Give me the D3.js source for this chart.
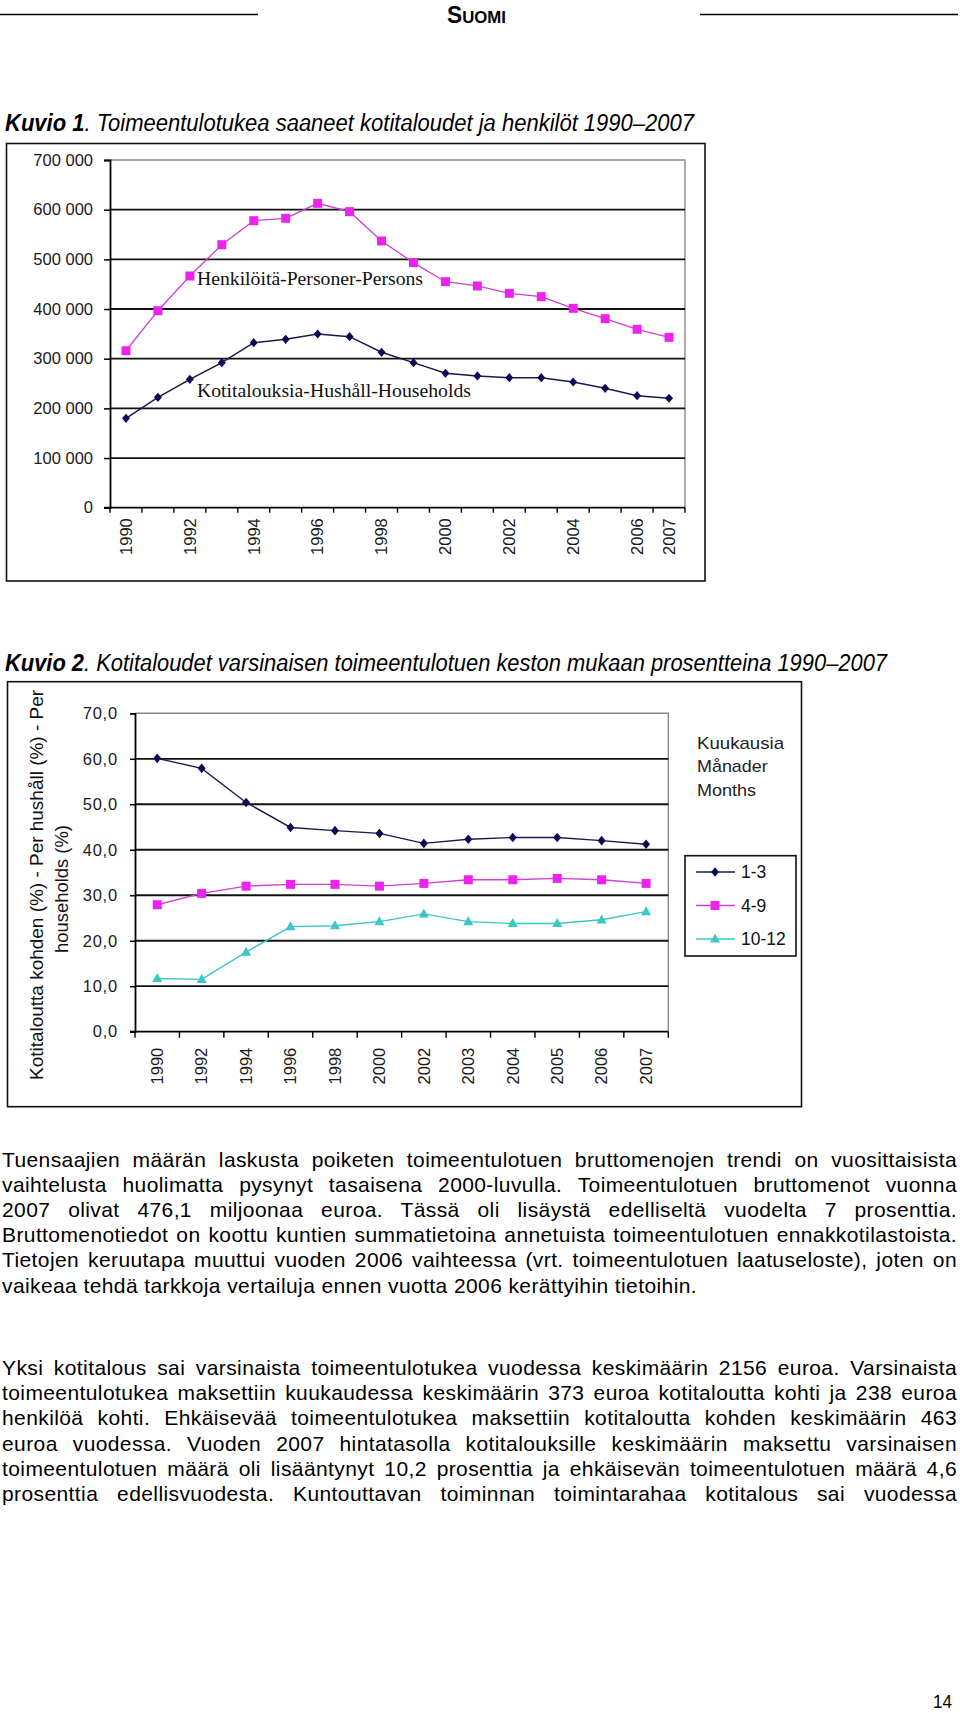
<!DOCTYPE html>
<html><head><meta charset="utf-8">
<script src="https://cdn.jsdelivr.net/npm/d3@7"></script>
<style>
body{margin:0;background:#fff}
svg{display:block}
text{font-family:"Liberation Sans",Arial,Helvetica,sans-serif}
</style>
</head><body>
<svg id="page" width="960" height="1713"></svg>
<script>
// ---------- DATA ----------
const years1 = [1990,1991,1992,1993,1994,1995,1996,1997,1998,1999,2000,2001,2002,2003,2004,2005,2006,2007];
const yearLabels1 = [1990,1992,1994,1996,1998,2000,2002,2004,2006,2007];
const persons = [316000,396600,466500,529500,577800,582600,612800,596000,537000,493300,455000,446400,431600,424800,401400,380500,359200,343000];
const households = [180000,222300,258500,292000,332200,339000,349700,344300,312900,292000,270600,265200,261800,261800,253100,240400,225500,220300];
const yTicks1 = [0,100000,200000,300000,400000,500000,600000,700000];
const seriesLabels1 = ["Henkilöitä-Personer-Persons","Kotitalouksia-Hushåll-Households"];

const categories2 = ["1990","1992","1994","1996","1998","2000","2002","2003","2004","2005","2006","2007"];
const months1to3 = [60.1,57.9,50.4,44.9,44.2,43.6,41.4,42.3,42.7,42.7,42.0,41.2];
const months4to9 = [27.9,30.4,32.0,32.4,32.4,32.0,32.6,33.4,33.4,33.7,33.4,32.6];
const months10to12 = [11.7,11.5,17.5,23.1,23.3,24.2,25.9,24.2,23.8,23.8,24.6,26.4];
const yTicks2 = [0,10,20,30,40,50,60,70];
const legendLabels2 = ["1-3","4-9","10-12"];
const legendTitle2 = ["Kuukausia","Månader","Months"];
const yTitle2 = ["Kotitaloutta kohden (%) - Per hushåll (%) - Per","households (%)"];

const title1 = ["Kuvio 1", ". Toimeentulotukea saaneet kotitaloudet ja henkilöt 1990–2007"];
const title2 = ["Kuvio 2", ". Kotitaloudet varsinaisen toimeentulotuen keston mukaan prosentteina 1990–2007"];

const para1 = [
 "Tuensaajien määrän laskusta poiketen toimeentulotuen bruttomenojen trendi on vuosittaisista",
 "vaihtelusta huolimatta pysynyt tasaisena 2000-luvulla. Toimeentulotuen bruttomenot vuonna",
 "2007 olivat 476,1 miljoonaa euroa. Tässä oli lisäystä edelliseltä vuodelta 7 prosenttia.",
 "Bruttomenotiedot on koottu kuntien summatietoina annetuista toimeentulotuen ennakkotilastoista.",
 "Tietojen keruutapa muuttui vuoden 2006 vaihteessa (vrt. toimeentulotuen laatuseloste), joten on",
 "vaikeaa tehdä tarkkoja vertailuja ennen vuotta 2006 kerättyihin tietoihin."
];
const para2 = [
 "Yksi kotitalous sai varsinaista toimeentulotukea vuodessa keskimäärin 2156 euroa. Varsinaista",
 "toimeentulotukea maksettiin kuukaudessa keskimäärin 373 euroa kotitaloutta kohti ja 238 euroa",
 "henkilöä kohti. Ehkäisevää toimeentulotukea maksettiin kotitaloutta kohden keskimäärin 463",
 "euroa vuodessa. Vuoden 2007 hintatasolla kotitalouksille keskimäärin maksettu varsinaisen",
 "toimeentulotuen määrä oli lisääntynyt 10,2 prosenttia ja ehkäisevän toimeentulotuen määrä 4,6",
 "prosenttia edellisvuodesta. Kuntouttavan toiminnan toimintarahaa kotitalous sai vuodessa"
];

// ---------- HELPERS ----------
const svg = d3.select("#page");
const NAVY = "#0b0b55", MAG = "#ee22ee", MAGL = "#d040d0", TEAL = "#3cc6c6";
function diamond(hw, hh){ return `M0,${-hh}L${hw},0L0,${hh}L${-hw},0Z`; }
function square(s){ return `M${-s/2},${-s/2}h${s}v${s}h${-s}Z`; }
function triangle(b,h){ return `M0,${-h*0.6}L${b/2},${h*0.4}L${-b/2},${h*0.4}Z`; }

// ---------- HEADER ----------
svg.append("line").attr("x1",0).attr("x2",258).attr("y1",14.5).attr("y2",14.5).attr("stroke","#000").attr("stroke-width",1.3);
svg.append("line").attr("x1",700).attr("x2",958).attr("y1",14.5).attr("y2",14.5).attr("stroke","#000").attr("stroke-width",1.3);
const suomi = svg.append("text").attr("x",447).attr("y",23).attr("font-weight","bold").attr("textLength",59).attr("lengthAdjust","spacingAndGlyphs");
suomi.append("tspan").attr("font-size",23).text("S");
suomi.append("tspan").attr("font-size",17).text("UOMI");

function drawTitle(parts, y, w){
  const t = svg.append("text").attr("x",5).attr("y",y).attr("font-size",23).attr("font-style","italic")
    .attr("textLength",w).attr("lengthAdjust","spacingAndGlyphs");
  t.append("tspan").attr("font-weight","bold").text(parts[0]);
  t.append("tspan").text(parts[1]);
}
drawTitle(title1, 131, 689);
drawTitle(title2, 670.5, 882);

// ---------- CHART 1 ----------
(function(){
  const L=110, R=685, T=160, B=507.7;
  svg.append("rect").attr("x",6.5).attr("y",143.5).attr("width",698.5).attr("height",437.5)
    .attr("fill","none").attr("stroke","#111").attr("stroke-width",1.6);
  const x = d3.scaleBand().domain(years1).range([L,R]).padding(0);
  const y = d3.scaleLinear().domain([0,700000]).range([B,T]);
  const g = svg.append("g");
  g.append("path").attr("d",`M${L},${T}H${R}V${B}`).attr("fill","none").attr("stroke","#8a8a8a").attr("stroke-width",1.4);
  g.selectAll(".grid").data(yTicks1.filter(d=>d>0 && d<700000)).join("line")
    .attr("x1",L).attr("x2",R).attr("y1",d=>y(d)).attr("y2",d=>y(d)).attr("stroke","#111").attr("stroke-width",1.8);
  const fmt = d => d===0 ? "0" : d3.format(",")(d).replace(/,/g," ");
  const ya = g.append("g").attr("transform",`translate(${L},0)`)
    .call(d3.axisLeft(y).tickValues(yTicks1).tickSize(6).tickPadding(11).tickFormat(fmt));
  ya.select(".domain").attr("stroke","#000").attr("stroke-width",1.8);
  ya.selectAll(".tick line").attr("stroke","#000").attr("stroke-width",1.5);
  ya.selectAll("text").attr("font-size",16.5).attr("fill","#1a1a1a").attr("font-family","Liberation Sans, Arial, sans-serif");
  const xa = g.append("g").attr("transform",`translate(0,${B})`)
    .call(d3.axisBottom(x).tickValues(yearLabels1).tickSize(0).tickPadding(0));
  xa.select(".domain").remove();
  g.append("line").attr("x1",L-6).attr("x2",R).attr("y1",B).attr("y2",B).attr("stroke","#000").attr("stroke-width",1.8);
  g.selectAll(".xt").data(years1.map(d=>x(d)).concat([R])).join("line")
    .attr("x1",d=>d).attr("x2",d=>d).attr("y1",B).attr("y2",B+5).attr("stroke","#000").attr("stroke-width",1.4);
  xa.selectAll("text").attr("font-size",16.5).attr("fill","#1a1a1a")
    .attr("transform","rotate(-90)").attr("text-anchor","end").attr("x",-10.5).attr("y",0).attr("dy","0.35em")
    .attr("font-family","Liberation Sans, Arial, sans-serif");
  const cx = d => x(d)+x.bandwidth()/2;
  const line = d3.line().x((d,i)=>cx(years1[i])).y(d=>y(d));
  g.append("path").datum(persons).attr("d",line).attr("fill","none").attr("stroke",MAGL).attr("stroke-width",1.3);
  g.append("path").datum(households).attr("d",line).attr("fill","none").attr("stroke","#1a1a4a").attr("stroke-width",1.5);
  g.selectAll(".mp").data(persons).join("path").attr("d",square(9))
    .attr("transform",(d,i)=>`translate(${cx(years1[i])},${y(d)})`).attr("fill",MAG);
  g.selectAll(".mh").data(households).join("path").attr("d",diamond(4,4.6))
    .attr("transform",(d,i)=>`translate(${cx(years1[i])},${y(d)})`).attr("fill",NAVY);
  g.append("text").attr("x",197).attr("y",285).attr("font-size",19).attr("fill","#111")
    .style("font-family","'Liberation Serif','Times New Roman',serif")
    .attr("textLength",226).attr("lengthAdjust","spacingAndGlyphs").text(seriesLabels1[0]);
  g.append("text").attr("x",197).attr("y",397).attr("font-size",19).attr("fill","#111")
    .style("font-family","'Liberation Serif','Times New Roman',serif")
    .attr("textLength",274).attr("lengthAdjust","spacingAndGlyphs").text(seriesLabels1[1]);
})();

// ---------- CHART 2 ----------
(function(){
  const L=135, R=668.3, T=713.3, B=1031.7;
  svg.append("rect").attr("x",7.5).attr("y",681.7).attr("width",794).attr("height",425)
    .attr("fill","none").attr("stroke","#111").attr("stroke-width",1.6);
  const x = d3.scaleBand().domain(categories2).range([L,R]).padding(0);
  const y = d3.scaleLinear().domain([0,70]).range([B,T]);
  const g = svg.append("g");
  g.append("path").attr("d",`M${L},${T}H${R}V${B}`).attr("fill","none").attr("stroke","#8a8a8a").attr("stroke-width",1.4);
  g.selectAll(".grid").data(yTicks2.filter(d=>d>0 && d<70)).join("line")
    .attr("x1",L).attr("x2",R).attr("y1",d=>y(d)).attr("y2",d=>y(d)).attr("stroke","#111").attr("stroke-width",1.8);
  const fmt = d => d3.format(".1f")(d).replace(".",",");
  const ya = g.append("g").attr("transform",`translate(${L},0)`)
    .call(d3.axisLeft(y).tickValues(yTicks2).tickSize(5).tickPadding(12).tickFormat(fmt));
  ya.select(".domain").attr("stroke","#000").attr("stroke-width",1.8);
  ya.selectAll(".tick line").attr("stroke","#000").attr("stroke-width",1.5);
  ya.selectAll("text").attr("font-size",16.5).attr("fill","#1a1a1a").attr("letter-spacing",0.8)
    .attr("font-family","Liberation Sans, Arial, sans-serif");
  const xa = g.append("g").attr("transform",`translate(0,${B})`)
    .call(d3.axisBottom(x).tickSize(0).tickPadding(0));
  xa.select(".domain").remove();
  g.append("line").attr("x1",L-5).attr("x2",R).attr("y1",B).attr("y2",B).attr("stroke","#000").attr("stroke-width",1.8);
  g.selectAll(".xt").data(categories2.map(d=>x(d)).concat([R])).join("line")
    .attr("x1",d=>d).attr("x2",d=>d).attr("y1",B).attr("y2",B+6).attr("stroke","#000").attr("stroke-width",1.4);
  xa.selectAll("text").attr("font-size",16.5).attr("fill","#1a1a1a")
    .attr("transform","rotate(-90)").attr("text-anchor","end").attr("x",-16).attr("y",0).attr("dy","0.35em")
    .attr("font-family","Liberation Sans, Arial, sans-serif");
  const cx = d => x(d)+x.bandwidth()/2;
  const line = d3.line().x((d,i)=>cx(categories2[i])).y(d=>y(d));
  const series = [
    {v:months1to3, c:NAVY, lc:"#1a1a4a", m:diamond(4,4.8)},
    {v:months4to9, c:MAG, lc:MAGL, m:square(9)},
    {v:months10to12, c:TEAL, lc:TEAL, m:triangle(10,9)}
  ];
  series.forEach(s=>{
    g.append("path").datum(s.v).attr("d",line).attr("fill","none").attr("stroke",s.lc).attr("stroke-width",1.4);
    g.selectAll(null).data(s.v).join("path").attr("d",s.m)
      .attr("transform",(d,i)=>`translate(${cx(categories2[i])},${y(d)})`).attr("fill",s.c);
  });
  const yt = [{t:yTitle2[0], x:37, y:885, w:390},{t:yTitle2[1], x:62, y:889, w:128}];
  yt.forEach(o=>{
    svg.append("text").attr("transform",`translate(${o.x},${o.y}) rotate(-90)`)
      .attr("text-anchor","middle").attr("dy","0.35em").attr("font-size",18.5).attr("fill","#111")
      .attr("textLength",o.w).attr("lengthAdjust","spacingAndGlyphs").text(o.t);
  });
  const lw = [87,70.7,59];
  legendTitle2.forEach((t,i)=>{
    svg.append("text").attr("x",697).attr("y",749+23.4*i).attr("font-size",17).attr("fill","#222")
      .attr("textLength",lw[i]).attr("lengthAdjust","spacingAndGlyphs").text(t);
  });
  svg.append("rect").attr("x",685).attr("y",855.7).attr("width",111).attr("height",100.3)
    .attr("fill","#fff").attr("stroke","#111").attr("stroke-width",1.6);
  legendLabels2.forEach((lab,i)=>{
    const yy = 872 + 33.5*i;
    const s = series[i];
    svg.append("line").attr("x1",696).attr("x2",735).attr("y1",yy).attr("y2",yy).attr("stroke",s.lc).attr("stroke-width",1.6);
    svg.append("path").attr("d",s.m).attr("transform",`translate(715,${yy})`).attr("fill",s.c);
    svg.append("text").attr("x",741).attr("y",yy).attr("dy","0.36em").attr("font-size",17.5).attr("fill","#111").text(lab);
  });
})();

// ---------- PARAGRAPHS ----------
function drawPara(lines, y0, lastJustified){
  const LS = 0.4, X0 = 2, W = 955;
  lines.forEach((s,i)=>{
    const t = svg.append("text").attr("x",X0).attr("y",y0+25.2*i).attr("font-size",21)
      .attr("fill","#000").attr("letter-spacing",LS).text(s);
    const justify = i < lines.length-1 || lastJustified;
    const w = t.node().getComputedTextLength();
    if (justify){
      const n = (s.match(/ /g)||[]).length;
      if (w <= W && n>0) t.attr("word-spacing", (W - w)/n);
      else t.attr("textLength", W).attr("lengthAdjust","spacingAndGlyphs");
    }
  });
}
drawPara(para1, 1166.5, false);
drawPara(para2, 1375, true);

// page number
svg.append("text").attr("x",933).attr("y",1708).attr("font-size",19).attr("textLength",19)
  .attr("lengthAdjust","spacingAndGlyphs").text("14");
</script>
</body></html>
